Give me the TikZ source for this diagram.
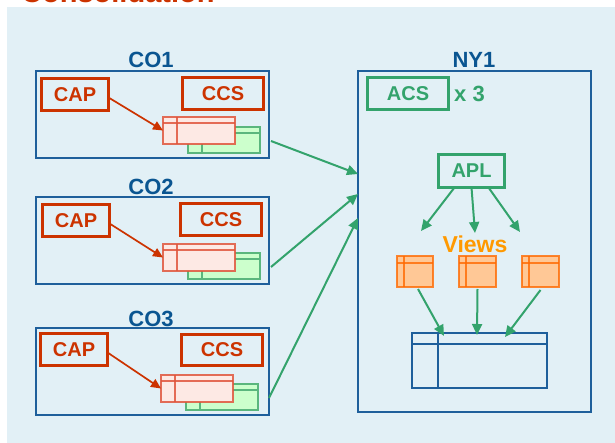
\documentclass[tikz,border=0pt]{standalone}
\usepackage{fontspec}
\setmainfont{Liberation Sans}
\usetikzlibrary{arrows.meta}
\definecolor{panel}{RGB}{226,240,246}
\definecolor{capred}{RGB}{204,51,0}
\definecolor{labelblue}{RGB}{10,85,145}
\definecolor{siteblue}{RGB}{30,95,155}
\definecolor{acsgreen}{RGB}{51,163,108}
\definecolor{pinkfill}{RGB}{253,233,228}
\definecolor{pinkline}{RGB}{224,85,60}
\definecolor{mintfill}{RGB}{204,255,204}
\definecolor{mintline}{RGB}{90,182,125}
\definecolor{vieworange}{RGB}{255,153,0}
\definecolor{viewfill}{RGB}{255,200,150}
\definecolor{viewline}{RGB}{255,106,0}
\tikzset{
  site/.style={draw=siteblue, line width=1.5pt, inner sep=0pt, outer sep=0pt, anchor=north west},
  sitelabel/.style={text=labelblue, font=\bfseries\fontsize{22}{26}\selectfont, anchor=base, inner sep=0pt},
  redbox/.style={draw=capred, line width=3.4pt, text=capred, inner sep=0pt, outer sep=0pt,
    font=\bfseries\fontsize{20}{24}\selectfont, anchor=north west},
  greenbox/.style={draw=acsgreen, line width=3.2pt, text=acsgreen, inner sep=0pt, outer sep=0pt,
    font=\bfseries\fontsize{20}{24}\selectfont, anchor=north west},
  pinktbl/.style={draw=pinkline, draw opacity=0.85, fill=pinkfill, line width=1.5pt, inner sep=0pt, outer sep=0pt, anchor=north west},
  minttbl/.style={draw=mintline, fill=mintfill, line width=1.5pt, inner sep=0pt, outer sep=0pt, anchor=north west},
  viewtbl/.style={draw=viewline, draw opacity=0.8, fill=viewfill, line width=1.5pt, inner sep=0pt, outer sep=0pt, anchor=north west},
  bigtbl/.style={draw=siteblue, line width=1.6pt, inner sep=0pt, outer sep=0pt, anchor=north west},
  redarrow/.style={draw=capred, line width=1.7pt, -{Triangle[length=10pt,width=9pt]}},
  greenarrow/.style={draw=acsgreen, line width=2pt, -{Triangle[length=11pt,width=10pt]}},
}
% a small table: outer frame plus one column rule and one header rule
\newcommand{\tablegrid}[5]{% style, name, col offset, row offset, unused
  \draw[#1, fill=none] ([xshift=#3pt]#2.north west) -- ([xshift=#3pt]#2.south west);
  \draw[#1, fill=none] ([yshift=-#4pt]#2.north west) -- ([yshift=-#4pt]#2.north east);
}
\begin{document}
\begin{tikzpicture}[x=1pt,y=-1pt]
\useasboundingbox (0,0) rectangle (615,443);
\clip (0,0) rectangle (615,443);

% page title, cut by the top edge, and the blue panel
\node[anchor=base west, inner sep=0pt, text=capred, font=\bfseries\fontsize{29}{34}\selectfont] (title) at (21,3) {Consolidation};
\fill[panel] (7,7) rectangle (620,450);

% ---------- the three company sites ----------
% CO1
\node[sitelabel] (co1lbl) at (151,68) {CO1};
\node[site, minimum width=233, minimum height=87] (co1) at (36,71) {};
\node[redbox, minimum width=67, minimum height=32] (cap1) at (41.5,78.5) {CAP};
\node[redbox, minimum width=81, minimum height=32] (ccs1) at (182.5,77.5) {CCS};
\node[minttbl, minimum width=72, minimum height=26] (g1) at (188,127) {};
\tablegrid{minttbl}{g1}{14}{6}{}
\node[pinktbl, minimum width=72, minimum height=27] (p1) at (163,117) {};
\tablegrid{pinktbl}{p1}{14}{6}{}
\draw[redarrow] ([yshift=-3pt]cap1.east) -- (p1.west);

% CO2
\node[sitelabel] (co2lbl) at (151,195) {CO2};
\node[site, minimum width=233, minimum height=87] (co2) at (36,197) {};
\node[redbox, minimum width=67, minimum height=32] (cap2) at (42.5,204.5) {CAP};
\node[redbox, minimum width=81, minimum height=32] (ccs2) at (180.5,203.5) {CCS};
\node[minttbl, minimum width=72, minimum height=26] (g2) at (188,253) {};
\tablegrid{minttbl}{g2}{14}{6}{}
\node[pinktbl, minimum width=72, minimum height=27] (p2) at (163,244) {};
\tablegrid{pinktbl}{p2}{14}{6}{}
\draw[redarrow] ([yshift=-3pt]cap2.east) -- (p2.west);

% CO3
\node[sitelabel] (co3lbl) at (151,326) {CO3};
\node[site, minimum width=233, minimum height=87] (co3) at (36,328) {};
\node[redbox, minimum width=67, minimum height=32] (cap3) at (40.5,333.5) {CAP};
\node[redbox, minimum width=81, minimum height=31] (ccs3) at (181.5,334.5) {CCS};
\node[minttbl, minimum width=72, minimum height=26] (g3) at (186,384) {};
\tablegrid{minttbl}{g3}{14}{6}{}
\node[pinktbl, minimum width=72, minimum height=27] (p3) at (161,375) {};
\tablegrid{pinktbl}{p3}{14}{6}{}
\draw[redarrow] ([yshift=-3pt]cap3.east) -- (p3.west);

% ---------- the NY1 site ----------
\node[sitelabel] (ny1lbl) at (474,68) {NY1};
\node[site, minimum width=233, minimum height=341] (ny1) at (358,71) {};
\node[greenbox, minimum width=81, minimum height=32] (acs) at (367.5,77.5) {ACS};
\node[anchor=base west, inner sep=0pt, text=acsgreen, font=\bfseries\fontsize{22}{26}\selectfont] (times) at (454,102) {x 3};
\node[greenbox, minimum width=66, minimum height=33] (apl) at (438.5,154.5) {APL};
\node[anchor=base, inner sep=0pt, text=vieworange, font=\bfseries\fontsize{23}{27}\selectfont] (views) at (475,253) {Views};

% view tables
\node[viewtbl, minimum width=36, minimum height=31] (v1) at (397,256) {};
\tablegrid{viewtbl}{v1}{7}{7}{}
\node[viewtbl, minimum width=37, minimum height=31] (v2) at (459,256) {};
\tablegrid{viewtbl}{v2}{7}{7}{}
\node[viewtbl, minimum width=37, minimum height=31] (v3) at (522,256) {};
\tablegrid{viewtbl}{v3}{7}{7}{}

% consolidated table
\node[bigtbl, minimum width=135, minimum height=55] (big) at (412,333) {};
\tablegrid{bigtbl}{big}{26}{11}{}

% APL feeds the views
\coordinate (va) at (421,231);
\coordinate (vb) at (475,233);
\coordinate (vc) at (520,232);
\draw[greenarrow] ([xshift=-17pt]apl.south) -- (va);
\draw[greenarrow] (apl.south) -- (vb);
\draw[greenarrow] ([xshift=17pt]apl.south) -- (vc);

% views feed the consolidated table
\draw[greenarrow] ([xshift=3pt,yshift=-2pt]v1.south) -- ([xshift=32pt,yshift=-3pt]big.north west);
\draw[greenarrow] ([yshift=-2pt]v2.south) -- ([xshift=65pt,yshift=-2pt]big.north west);
\draw[greenarrow] ([yshift=-3pt]v3.south) -- ([xshift=93pt,yshift=-4pt]big.north west);

% the sites send their data to NY1
\draw[greenarrow] ([xshift=2pt,yshift=17pt]co1.south east) -- ([yshift=-103pt]ny1.north west);
\draw[greenarrow] ([xshift=2pt,yshift=17pt]co2.south east) -- ([yshift=-123pt]ny1.north west);
\draw[greenarrow] ([xshift=0pt,yshift=17pt]co3.south east) -- ([yshift=-147pt]ny1.north west);
\end{tikzpicture}
\end{document}
